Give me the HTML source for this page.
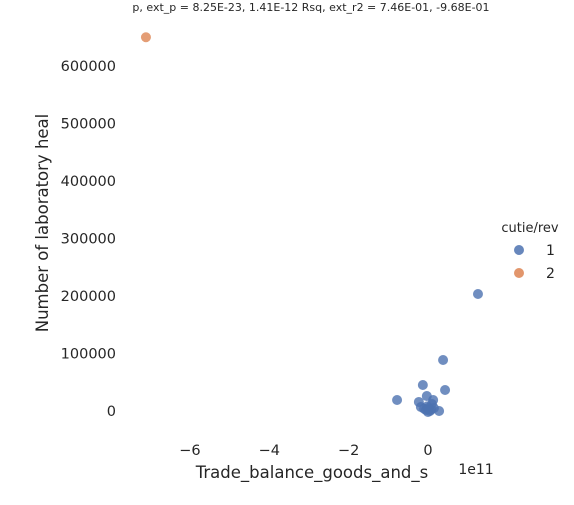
<!DOCTYPE html>
<html><head><meta charset="utf-8"><style>
body{margin:0;background:#fff;font-family:"Liberation Sans","DejaVu Sans",sans-serif;}
svg text{font-family:"DejaVu Sans","Liberation Sans",sans-serif;fill:#262626;}
</style></head><body>
<svg id="chart" width="574" height="500" xmlns="http://www.w3.org/2000/svg">
<text x="311" y="11" font-size="11" text-anchor="middle">p, ext_p = 8.25E-23, 1.41E-12 Rsq, ext_r2 = 7.46E-01, -9.68E-01</text>
<g id="yticks"></g><g id="xticks"></g><g id="points"></g>
<text transform="translate(48,223) rotate(-90)" font-size="16.5" text-anchor="middle">Number of laboratory heal</text>
<text x="312" y="478" font-size="16.5" text-anchor="middle">Trade_balance_goods_and_s</text>
<text x="476" y="474" font-size="14" text-anchor="middle">1e11</text>
<text x="530" y="232" font-size="13" text-anchor="middle">cutie/rev</text>
<g><circle cx="519" cy="250" r="5" fill="#4c72b0" opacity="0.85"/><text x="546" y="255" font-size="14">1</text></g>
<g><circle cx="519" cy="273" r="5" fill="#dd8452" opacity="0.85"/><text x="546" y="278" font-size="14">2</text></g>
</svg>
<script>
const xTicks=[-6,-4,-2,0];
const xTickLabels=["−6","−4","−2","0"];
const yTicks=[0,100000,200000,300000,400000,500000,600000];
const yTickLabels=["0","100000","200000","300000","400000","500000","600000"];
const xs1=[1.26,0.38,0.43,-0.13,-0.78,-0.03,0.13,-0.23,0.1,-0.18,0.28,0,-0.05,0.05,-0.1,0.15,0,0.08,-0.02];
const ys1=[203500,88700,36500,45200,19100,26000,19100,15700,12200,7000,0,5000,1700,0,4000,5000,-1700,2500,8000];
const xs2=[-7.11];
const ys2=[650000];
const X=v=>428+v*39.67, Y=v=>411-v*0.000575;
const NS="http://www.w3.org/2000/svg";
function mk(tag,attrs,parent,txt){const e=document.createElementNS(NS,tag);for(const k in attrs)e.setAttribute(k,attrs[k]);if(txt!=null)e.textContent=txt;document.getElementById(parent).appendChild(e);return e;}
xTicks.forEach((t,i)=>{const e=mk('text',{x:X(t),y:455,'font-size':14.5,'text-anchor':'middle'},'xticks',xTickLabels[i]);

});
yTicks.forEach((t,i)=>{const e=mk('text',{x:116,y:Y(t)+5,'font-size':14.5,'text-anchor':'end'},'yticks',yTickLabels[i]);

});
xs1.forEach((x,i)=>{const c=mk('circle',{cx:X(x),cy:Y(ys1[i]),r:5,fill:'#4c72b0',opacity:0.8},'points');

});
xs2.forEach((x,i)=>{const c=mk('circle',{cx:X(x),cy:Y(ys2[i]),r:5,fill:'#dd8452',opacity:0.8},'points');

});
</script>
</body></html>
